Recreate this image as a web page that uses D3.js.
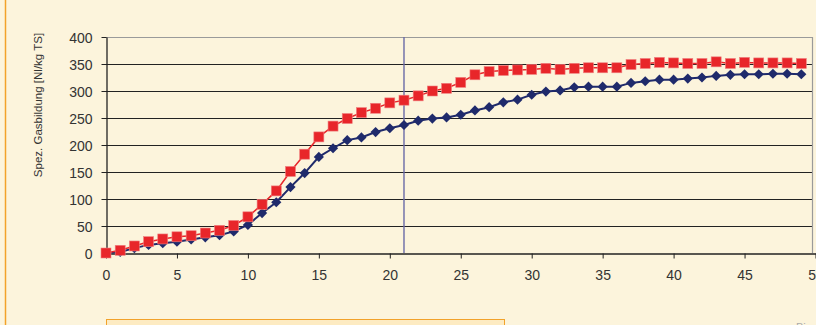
<!DOCTYPE html>
<html>
<head>
<meta charset="utf-8">
<script src="https://cdn.jsdelivr.net/npm/d3@7"></script>
<style>
  html, body { margin: 0; padding: 0; background: #fcf4dc; }
  svg { display: block; font-family: "Liberation Sans", Arial, sans-serif; }
</style>
</head>
<body>
<div id="chart"></div>
<script>
// Tage 0..49
const days = d3.range(0, 50);
// rote Kurve (Quadrate)
const seriesRed = [0, 5, 13, 21, 26, 30, 32, 37, 42, 51,
  67, 90, 115, 151, 183, 215, 235, 249, 260, 268,
  278, 283, 291, 300, 305, 316, 330, 336, 338, 339,
  340, 342, 340, 342, 343, 343, 343, 349, 351, 353,
  352, 351, 351, 354, 351, 353, 352, 352, 352, 351];
// blaue Kurve (Rauten)
const seriesBlue = [0, 2, 9, 15, 18, 21, 25, 29, 33, 40,
  52, 74, 94, 122, 148, 178, 194, 209, 214, 224,
  231, 237, 245, 249, 251, 256, 264, 270, 279, 284,
  293, 299, 301, 307, 308, 308, 308, 315, 318, 321,
  321, 323, 325, 328, 330, 331, 331, 332, 332, 331];
const yTicks = [0, 50, 100, 150, 200, 250, 300, 350, 400];
const xTicks = [0, 5, 10, 15, 20, 25, 30, 35, 40, 45, 50];
const markerDay = 21;
const yLabel = 'Spez. Gasbildung [Nl/kg TS]';

function renderChart(containerSelector) {
  const W = 816, H = 325;
  const margin = { top: 37, left: 106, bottom: 72 };
  const plotRight = 812;

  const svg = d3.select(containerSelector).append('svg')
    .attr('width', W).attr('height', H);

  svg.append('rect').attr('width', W).attr('height', H).attr('fill', '#fcf4dc');
  // orange frame line on the left
  svg.append('line')
    .attr('x1', 5.5).attr('x2', 5.5).attr('y1', 0).attr('y2', H)
    .attr('stroke', '#f2a22a').attr('stroke-width', 1.5);
  // box at the bottom (cut off)
  svg.append('rect')
    .attr('x', 106.5).attr('y', 319.5).attr('width', 398).attr('height', 20)
    .attr('fill', '#fdebc2').attr('stroke', '#f2a22a').attr('stroke-width', 1);

  const x = d3.scaleLinear().domain([0, 50]).range([margin.left, 815.5]);
  const y = d3.scaleLinear().domain([0, 400]).range([H - margin.bottom, margin.top]);

  // grid lines
  svg.append('g').selectAll('line')
    .data(yTicks.filter(d => d > 0 && d < 400))
    .join('line')
    .attr('x1', margin.left).attr('x2', plotRight)
    .attr('y1', d => Math.round(y(d)) + 0.5).attr('y2', d => Math.round(y(d)) + 0.5)
    .attr('stroke', '#222').attr('stroke-width', 1);

  // top and right border
  svg.append('path')
    .attr('d', `M${margin.left},${Math.round(y(400)) + 0.5}H${plotRight + 0.5}V${y(0)}`)
    .attr('fill', 'none').attr('stroke', '#9a9a9a').attr('stroke-width', 1.2);

  // vertical marker at day 21
  svg.append('line')
    .attr('x1', x(markerDay)).attr('x2', x(markerDay))
    .attr('y1', y(400)).attr('y2', y(0))
    .attr('stroke', '#6a6aa6').attr('stroke-width', 1.4);

  // axes
  const xAxis = svg.append('g')
    .attr('transform', `translate(0,${Math.round(y(0)) + 0.5})`)
    .call(d3.axisBottom(x).tickValues(xTicks).tickSize(5).tickPadding(12).tickSizeOuter(0));
  const yAxis = svg.append('g')
    .attr('transform', `translate(${margin.left + 0.5},0)`)
    .call(d3.axisLeft(y).tickValues(yTicks).tickSize(5).tickPadding(9).tickSizeOuter(0));
  [xAxis, yAxis].forEach(a => {
    a.select('.domain').attr('stroke', '#222').attr('stroke-width', 1.3);
    a.selectAll('.tick line').attr('stroke', '#222');
    a.selectAll('.tick text')
      .attr('fill', '#333').style('font-size', '14px')
      .style('font-family', '"Liberation Sans", Arial, sans-serif');
  });
  yAxis.selectAll('.tick text').attr('dy', '0.36em');

  svg.append('text')
    .attr('transform', 'translate(42,105) rotate(-90)')
    .attr('text-anchor', 'middle')
    .attr('fill', '#333')
    .style('font-size', '11.5px')
    .text(yLabel);

  const line = d3.line().x((d, i) => x(days[i])).y(d => y(d));

  // blue series
  svg.append('path').datum(seriesBlue)
    .attr('d', line).attr('fill', 'none')
    .attr('stroke', '#1f2a6b').attr('stroke-width', 2);
  svg.append('g').selectAll('path')
    .data(seriesBlue)
    .join('path')
    .attr('d', d3.symbol(d3.symbolDiamond2, 66))
    .attr('transform', (d, i) => `translate(${x(days[i])},${y(d)})`)
    .attr('fill', '#1f2a6b');

  // red series
  svg.append('path').datum(seriesRed)
    .attr('d', line).attr('fill', 'none')
    .attr('stroke', '#e8262a').attr('stroke-width', 1.5);
  svg.append('g').selectAll('rect')
    .data(seriesRed)
    .join('rect')
    .attr('x', (d, i) => x(days[i]) - 5)
    .attr('y', d => y(d) - 5)
    .attr('width', 10).attr('height', 10)
    .attr('fill', '#e8262a')
    .attr('stroke', '#f08080').attr('stroke-width', 0.6);

  // cut-off caption at the bottom right
  svg.append('text')
    .attr('x', 796).attr('y', 331)
    .attr('fill', '#aaa').style('font-size', '11px')
    .text('Bi');
}

renderChart('#chart');
</script>
</body>
</html>
